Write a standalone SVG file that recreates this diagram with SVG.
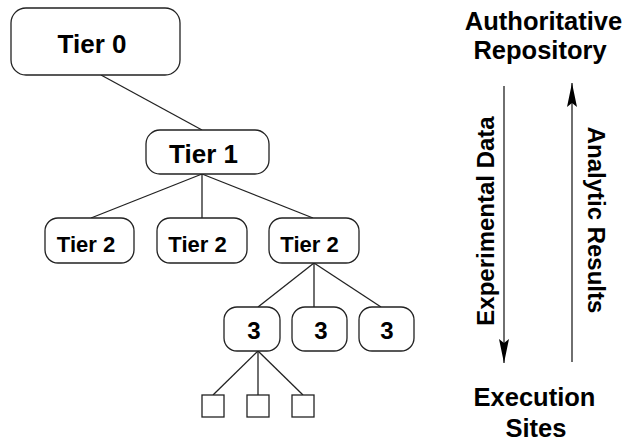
<svg xmlns="http://www.w3.org/2000/svg" width="635" height="442" viewBox="0 0 635 442">
<style>
.box{fill:#fff;stroke:#222;stroke-width:1.3}
.sq{fill:#fff;stroke:#222;stroke-width:1.3}
.ln{stroke:#222;stroke-width:1.3;fill:none}
.t{font-family:"Liberation Sans",Arial,sans-serif;font-weight:bold;fill:#000;text-anchor:middle}
.t26{font-size:26px}
.t22{font-size:22px}
.t24{font-size:24px}
.t25{font-size:25.5px}
</style>
<defs>
<marker id="ah" viewBox="0 0 24 10" refX="24" refY="5" markerWidth="24" markerHeight="10" markerUnits="userSpaceOnUse" orient="auto">
<path d="M0,0 L24,5 L0,10 L4,5 Z" fill="#000"/>
</marker>
</defs>
<g id="connectors">
<line class="ln" x1="101" y1="75" x2="202" y2="130"/>
<line class="ln" x1="202" y1="174" x2="91" y2="218"/>
<line class="ln" x1="202" y1="174" x2="202" y2="218"/>
<line class="ln" x1="202" y1="174" x2="313" y2="218"/>
<line class="ln" x1="314" y1="263" x2="258" y2="307"/>
<line class="ln" x1="314" y1="263" x2="314" y2="307"/>
<line class="ln" x1="314" y1="263" x2="381" y2="307"/>
<line class="ln" x1="258" y1="351" x2="213" y2="395"/>
<line class="ln" x1="258" y1="351" x2="258" y2="395"/>
<line class="ln" x1="258" y1="351" x2="303" y2="395"/>
<line class="ln" x1="504" y1="86" x2="504" y2="363" marker-end="url(#ah)"/>
<line class="ln" x1="572" y1="362" x2="572" y2="83" marker-end="url(#ah)"/>
</g>
<g id="tier0"><rect class="box" x="11" y="8" width="169" height="67" rx="15"/><text class="t t26" x="92" y="53">Tier 0</text></g>
<g id="tier1"><rect class="box" x="146" y="130" width="123" height="44" rx="14"/><text class="t t26" x="203.5" y="163">Tier 1</text></g>
<g id="tier2a"><rect class="box" x="45" y="218" width="89" height="45" rx="13"/><text class="t t22" x="86" y="252">Tier 2</text></g>
<g id="tier2b"><rect class="box" x="157" y="218" width="90" height="45" rx="13"/><text class="t t22" x="197.5" y="252">Tier 2</text></g>
<g id="tier2c"><rect class="box" x="269" y="218" width="90" height="45" rx="13"/><text class="t t22" x="309.5" y="252">Tier 2</text></g>
<g id="t3a"><rect class="box" x="224" y="307" width="56" height="44" rx="13"/><text class="t t24" x="254" y="339">3</text></g>
<g id="t3b"><rect class="box" x="292" y="307" width="55" height="44" rx="13"/><text class="t t24" x="321" y="339">3</text></g>
<g id="t3c"><rect class="box" x="359" y="307" width="55" height="44" rx="13"/><text class="t t24" x="387" y="339">3</text></g>
<g id="leaf1"><rect class="sq" x="202" y="395" width="22" height="22"/></g>
<g id="leaf2"><rect class="sq" x="247" y="395" width="22" height="22"/></g>
<g id="leaf3"><rect class="sq" x="292" y="395" width="22" height="22"/></g>
<g id="repo"><text class="t t25" x="543.5" y="30">Authoritative</text><text class="t t25" x="540" y="59">Repository</text></g>
<g id="exec"><text class="t t25" x="534.5" y="406">Execution</text><text class="t t25" x="536" y="437">Sites</text></g>
<g id="label-exp"><text class="t t24" transform="translate(494,221) rotate(-90)">Experimental Data</text></g>
<g id="label-ana"><text class="t t24" transform="translate(588,220) rotate(90)">Analytic Results</text></g>
</svg>
